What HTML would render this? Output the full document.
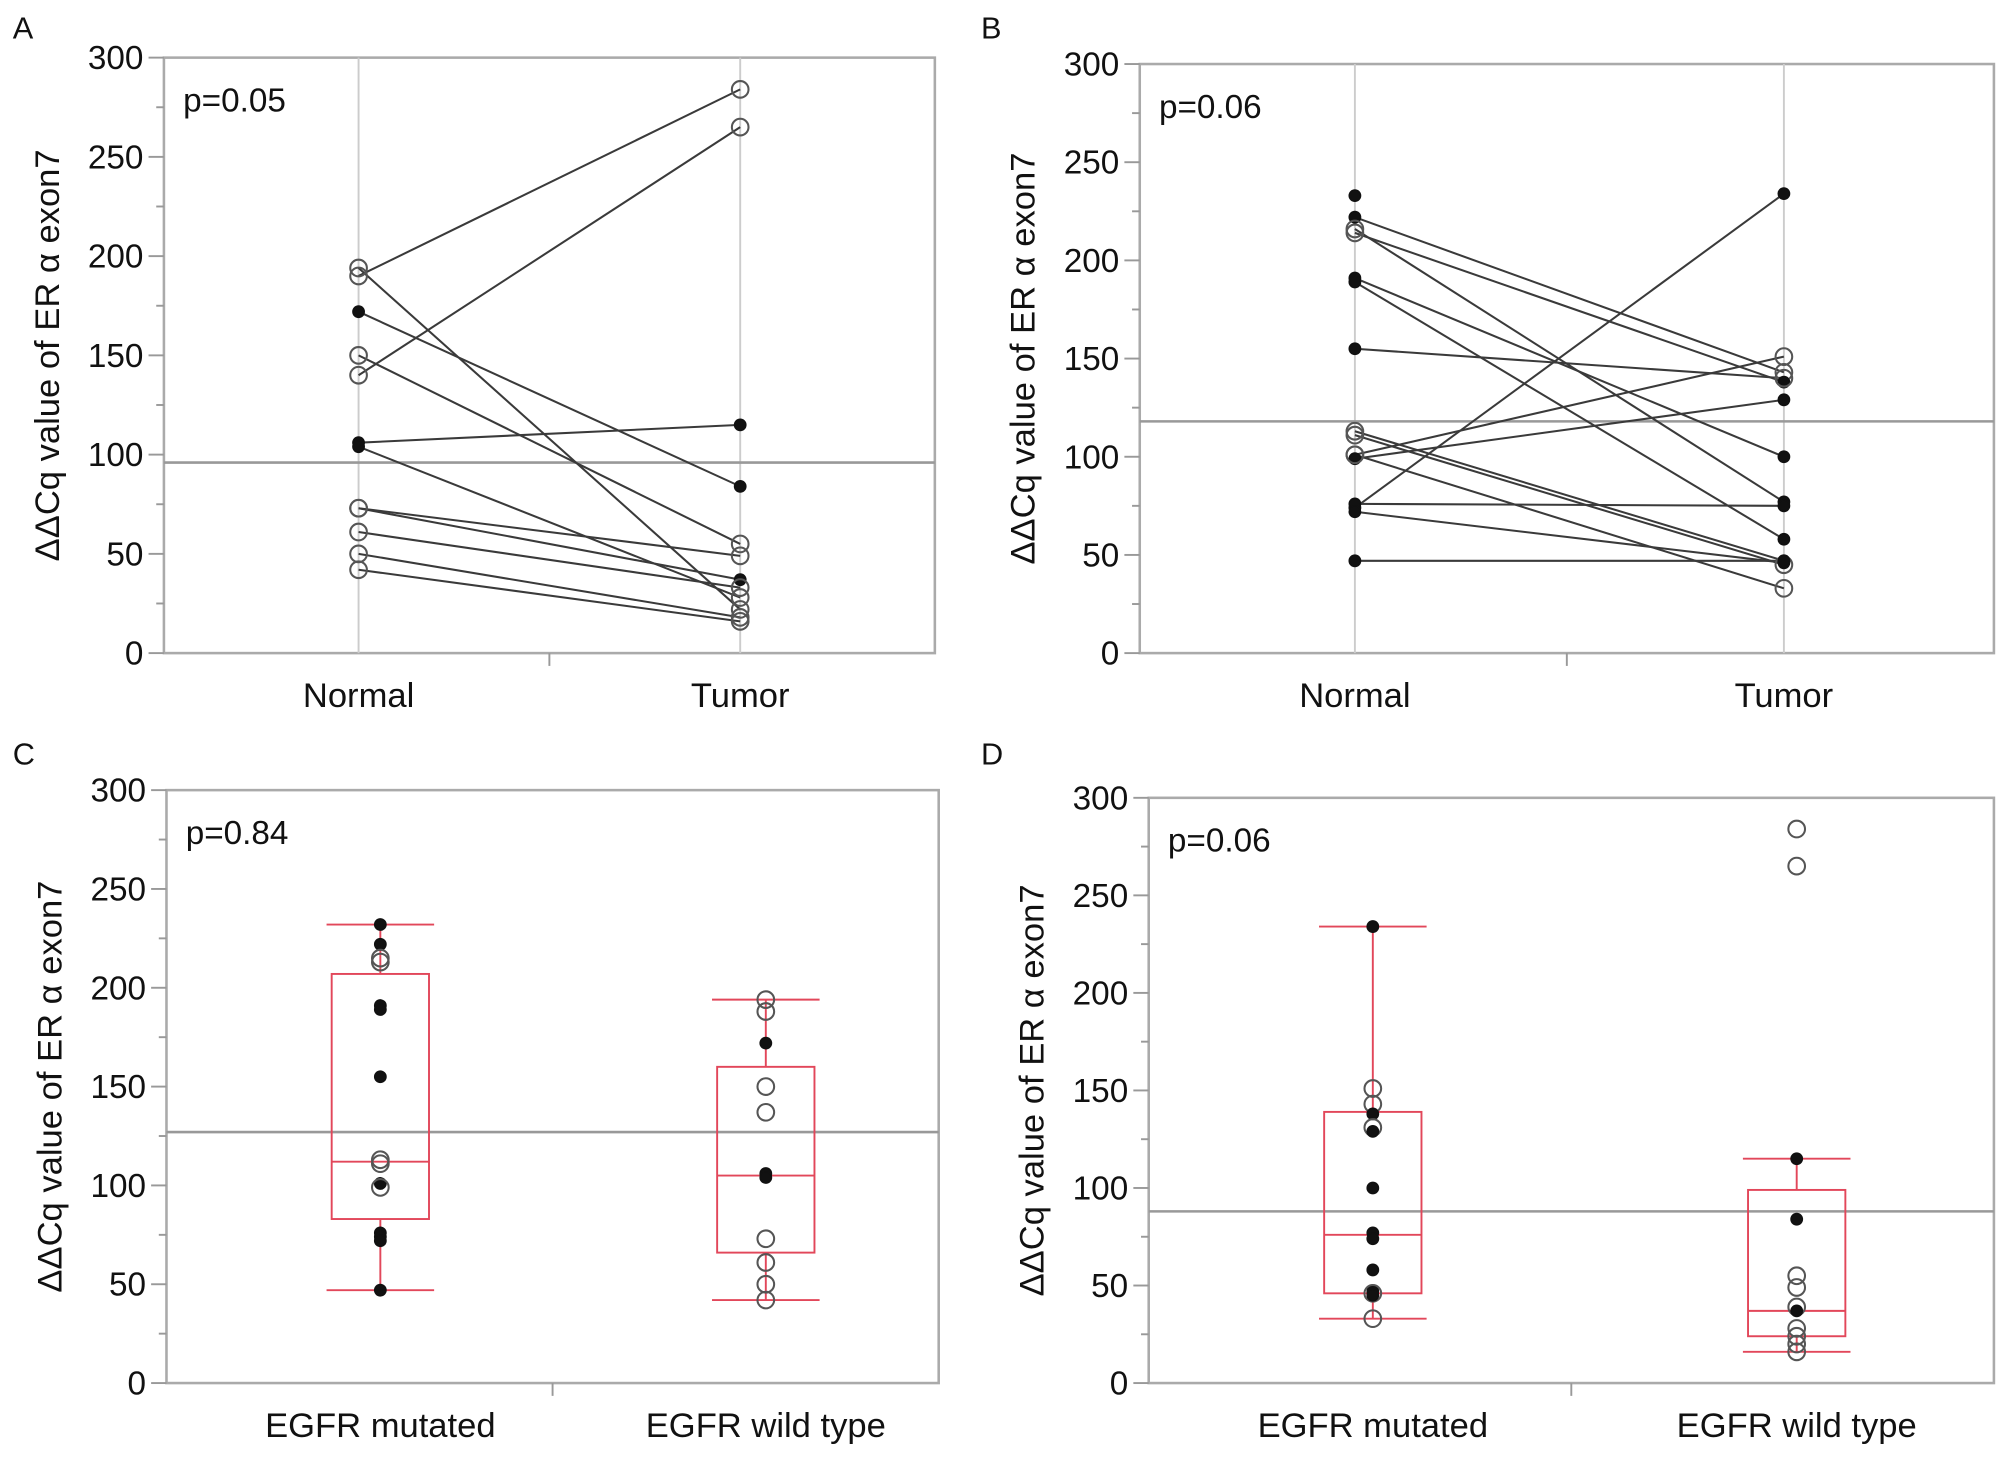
<!DOCTYPE html>
<html><head><meta charset="utf-8"><style>
html,body{margin:0;padding:0;background:#fff;}
svg{display:block;}
text{font-family:"Liberation Sans",Arial,sans-serif;fill:#111;}
</style></head><body>
<svg id="fig" width="2008" height="1459" viewBox="0 0 1568 1139.3" xmlns="http://www.w3.org/2000/svg"></svg>
<script>
// Panel A data (paired Normal -> Tumor)
const aNormal = [190, 194, 172, 150, 140, 106, 104, 73, 73, 61, 50, 42];
const aTumor  = [284, 22, 84, 55, 265, 115, 28, 49, 37, 33, 18, 16];
const aNormalFilled = [0,0,1,0,0,1,1,0,0,0,0,0];
const aTumorFilled  = [0,0,1,0,0,1,0,0,1,0,0,0];
const aMean = 96;
// Panel B data
const bNormal = [74, 222, 216, 214, 191, 189, 155, 101, 99, 113, 111, 101, 76, 72, 47, 233];
const bTumor  = [234, 143, 77, 138, 100, 58, 140, 151, 129, 47, 45, 33, 75, 46, 47, null];
const bNormalFilled = [1,1,0,0,1,1,1,0,1,0,0,0,1,1,1,1];
const bTumorFilled  = [1,0,1,1,1,1,0,0,1,1,0,0,1,1,1,0];
const bMean = 118;
// Panel C data
const cMutated = [232, 222, 215, 213, 191, 189, 155, 113, 111, 101, 99, 76, 74, 72, 47];
const cMutFilled = [1,1,0,0,1,1,1,0,0,1,0,1,1,1,1];
const cWild = [194, 188, 172, 150, 137, 106, 104, 73, 61, 50, 42];
const cWildFilled = [0,0,1,0,0,1,1,0,0,0,0];
const cMutBox = [47, 83, 112, 207, 232];
const cWildBox = [42, 66, 105, 160, 194];
const cMean = 127;
// Panel D data
const dMutated = [234, 151, 143, 138, 131, 129, 100, 77, 74, 58, 47, 46, 45, 33];
const dMutFilled = [1,0,0,1,0,1,1,1,1,1,1,0,1,0];
const dWild = [284, 265, 115, 84, 55, 49, 39, 37, 28, 24, 20, 16];
const dWildFilled = [0,0,1,1,0,0,0,1,0,0,0,0];
const dMutBox = [33, 46, 76, 139, 234];
const dWildBox = [16, 24, 37, 99, 115];
const dMean = 88;
const yTicks = [0, 50, 100, 150, 200, 250, 300];

const NS = "http://www.w3.org/2000/svg";
const svg = document.getElementById('fig');
function mk(tag, attrs, parent, txt) {
  const e = document.createElementNS(NS, tag);
  for (const k in attrs) e.setAttribute(k, attrs[k]);
  if (txt !== undefined) e.textContent = txt;
  (parent || svg).appendChild(e);
  return e;
}

function panel(cfg) {
  const g = mk('g', {});
  
  
  const {x0, x1, y0, y1} = cfg;
  const y = v => y1 - (v / 300) * (y1 - y0);
  const lbl = mk('text', {x: cfg.lx, y: cfg.ly, 'font-size': 24}, g, cfg.letter);
  
  
  const yt = mk('text', {transform: `translate(${x0 - 82},${(y0 + y1) / 2}) rotate(-90)`, 'text-anchor': 'middle', 'font-size': 27}, g, 'ΔΔCq value of ER α exon7');
  
  
  const fr = mk('rect', {x: x0, y: y0, width: x1 - x0, height: y1 - y0, fill: 'none', stroke: '#aaa', 'stroke-width': 2}, g);
  
  
  for (let v = 0; v <= 300; v += 25) {
    const major = v % 50 === 0;
    mk('line', {x1: x0 - (major ? 12 : 6), x2: x0, y1: y(v), y2: y(v), stroke: '#999', 'stroke-width': 1.5}, g);
  }
  yTicks.forEach(v => {
    const t = mk('text', {x: x0 - 16, y: y(v) + 9, 'text-anchor': 'end', 'font-size': 26}, g, String(v));
    
    
  });
  const mid = (x0 + x1) / 2;
  mk('line', {x1: mid, x2: mid, y1: y1, y2: y1 + 10, stroke: '#999', 'stroke-width': 1.5}, g);
  cfg.cats.forEach((c, i) => {
    const t = mk('text', {x: cfg.cx[i], y: y1 + 42, 'text-anchor': 'middle', 'font-size': 27}, g, c);
    
    
    if (cfg.grid) mk('line', {x1: cfg.cx[i], x2: cfg.cx[i], y1: y0, y2: y1, stroke: '#ccc', 'stroke-width': 1.5}, g);
  });
  const ml = mk('line', {x1: x0, x2: x1, y1: y(cfg.mean), y2: y(cfg.mean), stroke: '#999', 'stroke-width': 2}, g);
  
  
  const p = mk('text', {x: x0 + 15, y: y0 + 42, 'font-size': 26}, g, cfg.p);
  
  
  return {g, y};
}

function pt(g, cx, cy, filled) {
  const c = mk('circle', filled ? {cx, cy, r: 4.5, fill: '#111', stroke: '#111', 'stroke-width': 1} : {cx, cy, r: 6.5, fill: 'none', stroke: '#555', 'stroke-width': 1.6}, g);
  
  
}

function paired(cfg, normal, tumor, nf, tf) {
  const {g, y} = panel(cfg);
  normal.forEach((v, i) => {
    if (tumor[i] !== null) {
      const l = mk('line', {x1: cfg.cx[0], y1: y(v), x2: cfg.cx[1], y2: y(tumor[i]), stroke: '#3a3a3a', 'stroke-width': 1.6}, g);
      
      
    }
  });
  normal.forEach((v, i) => pt(g, cfg.cx[0], y(v), nf[i]));
  tumor.forEach((v, i) => { if (v !== null) pt(g, cfg.cx[1], y(v), tf[i]); });
}

function boxp(cfg, groups, fills, boxes) {
  const {g, y} = panel(cfg);
  const col = '#e2475a';
  boxes.forEach((b, i) => {
    const cx = cfg.cx[i], hw = 38, ww = 42;
    mk('line', {x1: cx, x2: cx, y1: y(b[0]), y2: y(b[1]), stroke: col, 'stroke-width': 1.5}, g);
    mk('line', {x1: cx, x2: cx, y1: y(b[3]), y2: y(b[4]), stroke: col, 'stroke-width': 1.5}, g);
    const r = mk('rect', {x: cx - hw, y: y(b[3]), width: 2 * hw, height: y(b[1]) - y(b[3]), fill: 'none', stroke: col, 'stroke-width': 1.5}, g);
    
    
    mk('line', {x1: cx - hw, x2: cx + hw, y1: y(b[2]), y2: y(b[2]), stroke: col, 'stroke-width': 1.5}, g);
    mk('line', {x1: cx - ww, x2: cx + ww, y1: y(b[0]), y2: y(b[0]), stroke: col, 'stroke-width': 1.5}, g);
    mk('line', {x1: cx - ww, x2: cx + ww, y1: y(b[4]), y2: y(b[4]), stroke: col, 'stroke-width': 1.5}, g);
  });
  groups.forEach((arr, i) => arr.forEach((v, j) => pt(g, cfg.cx[i], y(v), fills[i][j])));
}

paired({letter: 'A', lx: 10, ly: 30, x0: 128, x1: 730, y0: 45, y1: 510, cx: [280, 578], cats: ['Normal', 'Tumor'], grid: true, mean: aMean, p: 'p=0.05'}, aNormal, aTumor, aNormalFilled, aTumorFilled);
paired({letter: 'B', lx: 766, ly: 30, x0: 890, x1: 1557, y0: 50, y1: 510, cx: [1058, 1393], cats: ['Normal', 'Tumor'], grid: true, mean: bMean, p: 'p=0.06'}, bNormal, bTumor, bNormalFilled, bTumorFilled);
boxp({letter: 'C', lx: 10, ly: 597, x0: 130, x1: 733, y0: 617, y1: 1080, cx: [297, 598], cats: ['EGFR mutated', 'EGFR wild type'], grid: false, mean: cMean, p: 'p=0.84'}, [cMutated, cWild], [cMutFilled, cWildFilled], [cMutBox, cWildBox]);
boxp({letter: 'D', lx: 766, ly: 597, x0: 897, x1: 1557, y0: 623, y1: 1080, cx: [1072, 1403], cats: ['EGFR mutated', 'EGFR wild type'], grid: false, mean: dMean, p: 'p=0.06'}, [dMutated, dWild], [dMutFilled, dWildFilled], [dMutBox, dWildBox]);
</script>
</body></html>
